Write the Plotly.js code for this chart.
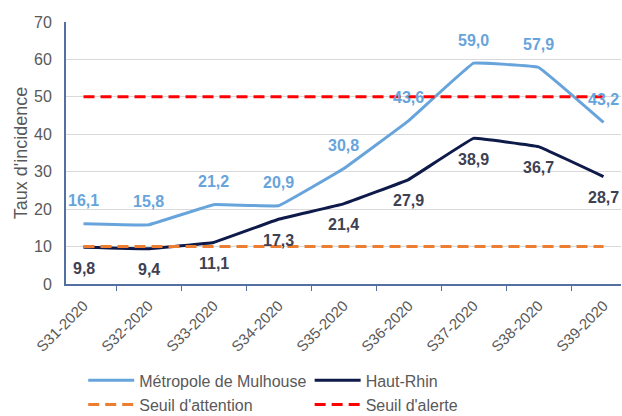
<!DOCTYPE html>
<html>
<head>
<meta charset="utf-8">
<script src="https://cdn.plot.ly/plotly-3.0.1.min.js"></script>
<style>html,body{margin:0;padding:0;background:#fff;}#chart{width:622px;height:416px;}</style>
</head>
<body>
<div id="chart"></div>
<script>
const weeks = ["S31-2020","S32-2020","S33-2020","S34-2020","S35-2020","S36-2020","S37-2020","S38-2020","S39-2020"];
const mulhouse = [16.1, 15.8, 21.2, 20.9, 30.8, 43.6, 59.0, 57.9, 43.2];
const hautRhin = [9.8, 9.4, 11.1, 17.3, 21.4, 27.9, 38.9, 36.7, 28.7];
const seuilAttention = [10, 10, 10, 10, 10, 10, 10, 10, 10];
const seuilAlerte = [50, 50, 50, 50, 50, 50, 50, 50, 50];
const yTicks = [0, 10, 20, 30, 40, 50, 60, 70];

const fmt = v => v.toFixed(1).replace('.', ',');
const font = "Liberation Sans, Arial, sans-serif";

const traces = [
  {x: weeks, y: mulhouse, name: "Métropole de Mulhouse", mode: "lines", legend: "legend",
   line: {color: "#68A4DC", width: 3, shape: "spline", smoothing: 0.15}},
  {x: weeks, y: hautRhin, name: "Haut-Rhin", mode: "lines", legend: "legend2",
   line: {color: "#0E1A4A", width: 3, shape: "spline", smoothing: 0.15}},
  {x: weeks, y: seuilAttention, name: "Seuil d'attention", mode: "lines", legend: "legend3",
   line: {color: "#ED7D31", width: 3, dash: "11px,6px"}},
  {x: weeks, y: seuilAlerte, name: "Seuil d'alerte", mode: "lines", legend: "legend4",
   line: {color: "#FF0000", width: 3, dash: "11px,6px"}}
];

const annotations = [];
weeks.forEach((w, i) => {
  annotations.push({x: w, y: mulhouse[i], text: fmt(mulhouse[i]), showarrow: false,
    yshift: 23, font: {family: font, size: 16, color: "#68A4DC", weight: "bold"}});
  annotations.push({x: w, y: hautRhin[i], text: fmt(hautRhin[i]), showarrow: false,
    yshift: -21, font: {family: font, size: 16, color: "#3E4152", weight: "bold"}});
});

const legFont = {size: 16, color: "#595959", family: font};
const mkLegend = (x, y) => ({orientation: "h", x: x, xanchor: "left", y: y, yanchor: "middle",
  itemwidth: 46, font: legFont, bgcolor: "rgba(0,0,0,0)"});

const layout = {
  width: 622, height: 416,
  margin: {l: 66, r: 1, t: 22, b: 132, autoexpand: false},
  paper_bgcolor: "#fff", plot_bgcolor: "#fff",
  font: {family: font, color: "#595959"},
  showlegend: true,
  legend: mkLegend(0.031, -0.368),
  legend2: mkLegend(0.439, -0.368),
  legend3: mkLegend(0.031, -0.46),
  legend4: mkLegend(0.439, -0.46),
  xaxis: {type: "category", tickangle: -45, tickfont: {size: 15, color: "#595959"},
    showline: true, linecolor: "#5270A0", linewidth: 2, ticks: "outside", tickson: "boundaries",
    ticklen: 5, tickcolor: "#5270A0", showgrid: false, zeroline: false, ticklabelstandoff: 5},
  yaxis: {range: [0, 70], tickvals: yTicks, tickfont: {size: 16, color: "#595959"},
    showline: true, linecolor: "#5270A0", linewidth: 2, gridcolor: "#D9D9D9", gridwidth: 1,
    zeroline: false, ticks: "", ticklabelstandoff: 9,
    title: {text: "Taux d'incidence", font: {size: 18, color: "#595959"}, standoff: 2}},
  annotations: annotations
};

Plotly.newPlot("chart", traces, layout, {displayModeBar: false, staticPlot: true});
</script>
</body>
</html>
